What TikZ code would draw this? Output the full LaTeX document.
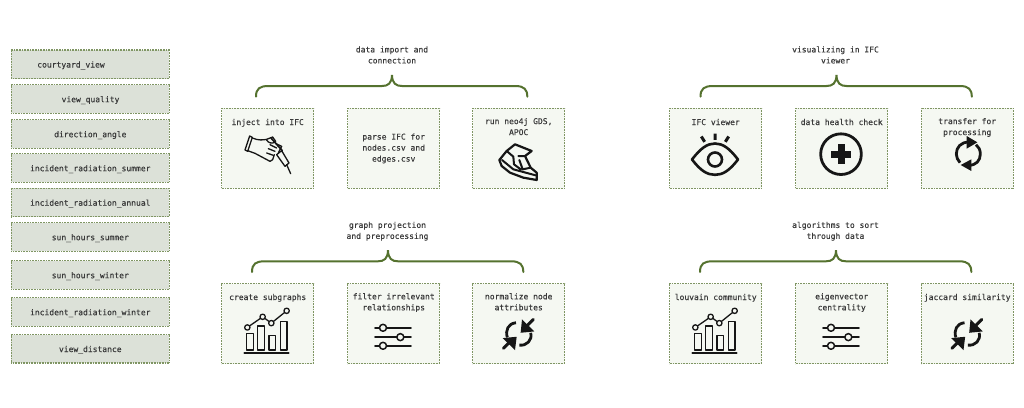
\documentclass[tikz,border=0pt]{standalone}
\usepackage{fontspec}
\setmainfont[FakeBold=0.25]{DejaVu Sans Mono}
\definecolor{cardfill}{HTML}{F5F8F2}
\definecolor{tagfill}{HTML}{DCE1D8}
\definecolor{rim}{HTML}{7F9563}
\definecolor{bracecol}{HTML}{55722F}
\definecolor{ink}{HTML}{3A3A3A}
\definecolor{iconink}{HTML}{161616}
\tikzset{
  rimline/.style={draw=rim,line width=1.4pt,dash pattern=on 1pt off 0.6pt},
  card/.style={rimline,fill=cardfill,minimum width=92pt,minimum height=80pt,inner sep=0pt,anchor=north west},
  tag/.style={rimline,fill=tagfill,minimum width=158pt,minimum height=28.5pt,inner sep=0pt},
  lbl/.style={text=ink,font=\fontsize{8}{11}\selectfont,align=center,inner sep=0pt,yshift=-1pt,execute at begin node=\strut,execute at end node=\strut},
  iconline/.style={draw=iconink,line width=1.3pt,line join=round,line cap=round},
  iconbold/.style={draw=iconink,line width=2.6pt,line join=round},
  zoomed/.style={x=0.3333pt,y=-0.3333pt},
  bracketpic/.pic={\draw[bracecol,line width=2pt,line cap=round,zoomed]
     (0,0) .. controls (0,-25) and (12,-32) .. (37,-32) -- (377,-32)
     .. controls (397,-32) and (407,-40) .. (408,-65)
     .. controls (409,-40) and (419,-32) .. (439,-32) -- (779,-32)
     .. controls (804,-32) and (814,-22) .. (814,0);},
  chartpic/.pic={\begin{scope}[zoomed]
     \foreach \a/\b/\c in {77/97/152,110/130/130,144/163/158,178/198/116}
       \draw[iconline,line width=1.5pt] (\a,\c) rectangle (\b,202);
     \draw[iconline,line width=1.8pt] (70,211) -- (203,211);
     \draw[iconline] (79,134) -- (125,102) -- (151,121) -- (197,84);
     \foreach \p in {(79,134),(125,102),(151,121),(197,84)}
       \draw[iconline,fill=cardfill] \p circle (8);
   \end{scope}},
  sliderpic/.pic={\begin{scope}[zoomed]
     \foreach \yy in {135,163,189} \draw[iconline,line width=1.6pt] (84,\yy) -- (192,\yy);
     \foreach \p in {(108,135),(160,163),(108,189)}
       \draw[iconline,line width=1.5pt,fill=cardfill] \p circle (10.5);
   \end{scope}},
  comprespic/.pic={\begin{scope}[zoomed]
     \draw[iconbold,line width=2.8pt] (78,38) .. controls (55,40) and (45,60) .. (52,82);
     \draw[iconbold,line width=2.8pt] (122,68) .. controls (128,90) and (110,108) .. (88,105);
     \draw[iconbold,line width=3pt,line cap=round] (130,28) -- (108,50);
     \draw[iconbold,line width=3pt,line cap=round] (40,115) -- (60,95);
     \fill[iconink] (92,68) -- (96,28) -- (133,64) -- cycle;
     \fill[iconink] (80,80) -- (75,120) -- (38,84) -- cycle;
   \end{scope}},
  syncpic/.pic={\begin{scope}[zoomed]
     \draw[iconbold,line width=2.8pt] (88,36) .. controls (62,36) and (49,52) .. (49,72) .. controls (49,82) and (53,90) .. (60,98);
     \draw[iconbold,line width=2.8pt] (108,44) .. controls (116,50) and (121,60) .. (121,72) .. controls (121,92) and (108,106) .. (86,106);
     \fill[iconink] (80,18) -- (112,37) -- (80,56) -- cycle;
     \fill[iconink] (94,88) -- (62,105) -- (94,123) -- cycle;
   \end{scope}},
  eyepic/.pic={\begin{scope}[zoomed]
     \draw[iconbold] (69,156) .. controls (95,122) and (115,108) .. (138,108)
        .. controls (161,108) and (181,122) .. (207,156)
        .. controls (181,190) and (161,202) .. (138,202)
        .. controls (115,202) and (95,190) .. (69,156) -- cycle;
     \draw[iconbold] (138,156) circle (21);
     \draw[iconbold,line width=3pt] (138,78) -- (138,97) (97,87) -- (107,103) (179,87) -- (169,103);
   \end{scope}},
  pluspic/.pic={\begin{scope}[zoomed]
     \draw[iconbold,line width=2.8pt] (138,140) circle (61);
     \draw[iconink,line width=7pt] (108,140) -- (168,140) (138,110) -- (138,170);
   \end{scope}},
  handpic/.pic={\begin{scope}[zoomed]
     \draw[iconline] (44,24) -- (30,66) -- (38,70) -- (52,28) -- cycle;
     \draw[iconline] (52,30) .. controls (70,38) and (85,36) .. (95,34)
        -- (113,27) -- (122,40);
     \draw[iconline] (38,68) -- (60,76) -- (105,100) -- (113,95) -- (118,80);
     \draw[iconline] (95,36) .. controls (100,45) and (110,48) .. (122,42);
     \draw[iconline] (95,75) -- (115,82) (100,62) -- (120,70) (105,50) -- (125,60);
     \draw[iconline,line width=1.7pt] (108,30) -- (142,68);
     \draw[iconline] (125,80) -- (140,68) -- (162,105) -- (150,115) -- cycle;
     \draw[iconline] (155,110) -- (167,137);
     \draw[iconline] (125,48) -- (140,55) -- (130,75);
   \end{scope}},
  shoepic/.pic={\begin{scope}[zoomed]
     \draw[iconline,line width=2.2pt] (28,72) -- (50,45) -- (75,25) -- (125,45) -- (105,60)
        -- (122,95) -- (140,110) -- (140,132) -- (100,125) -- (60,110) -- (35,90) -- cycle;
     \draw[iconline,line width=2pt] (50,45) -- (70,62) -- (72,85) -- (92,100)
        (85,60) -- (105,60) (88,72) -- (98,100) -- (122,95)
        (36,72) -- (70,100) -- (137,118);
   \end{scope}}
}
\newcommand{\stepcard}[3]{\node[card] (#1) at (#2,#3) {};}
\begin{document}
\begin{tikzpicture}[x=1pt,y=-1pt]
\useasboundingbox (0,0) rectangle (1024,407);
\fill[white] (0,0) rectangle (1024,407);
% left tags
\foreach \nm/\yy/\tx/\xo in {ta/64.3/courtyard\_view/71,tb/99/view\_quality/90.5,tc/134/direction\_angle/90.3,td/168/incident\_radiation\_summer/90.3,te/202.5/incident\_radiation\_annual/90.3,tf/237/sun\_hours\_summer/90.3,tg/275/sun\_hours\_winter/90.3,th/312/incident\_radiation\_winter/90.3,ti/348.8/view\_distance/90.3}{
  \node[tag] (\nm) at (90.3,\yy) {};
  \node[lbl] (\nm l) at (\xo,\yy) {\tx};
}
% cards
\stepcard{a1}{221}{107.5}\stepcard{a2}{347}{107.5}\stepcard{a3}{472}{107.5}
\stepcard{b1}{669}{107.5}\stepcard{b2}{795}{107.5}\stepcard{b3}{920.5}{107.5}
\stepcard{c1}{221}{282.8}\stepcard{c2}{347}{282.8}\stepcard{c3}{472}{282.8}
\stepcard{d1}{669}{282.8}\stepcard{d2}{795}{282.8}\stepcard{d3}{920.5}{282.8}
% card labels
\node[lbl] (a1l) at ([shift={(0,14.3)}]a1.north) {inject into IFC};
\node[lbl] (a2l) at (a2.center) {parse IFC for\\nodes.csv and\\edges.csv};
\node[lbl] (a3l) at ([shift={(0,19.7)}]a3.north) {run neo4j GDS,\\APOC};
\node[lbl] (b1l) at ([shift={(0,14.3)}]b1.north) {IFC viewer};
\node[lbl] (b2l) at ([shift={(0,14.3)}]b2.north) {data health check};
\node[lbl] (b3l) at ([shift={(0,19.7)}]b3.north) {transfer for\\processing};
\node[lbl] (c1l) at ([shift={(0,14)}]c1.north) {create subgraphs};
\node[lbl] (c2l) at ([shift={(0,19.6)}]c2.north) {filter irrelevant\\relationships};
\node[lbl] (c3l) at ([shift={(0,19.6)}]c3.north) {normalize node\\attributes};
\node[lbl] (d1l) at ([shift={(0,14)}]d1.north) {louvain community};
\node[lbl] (d2l) at ([shift={(0,19.6)}]d2.north) {eigenvector\\centrality};
\node[lbl] (d3l) at ([shift={(0,14)}]d3.north) {jaccard similarity};
% group titles
\node[lbl] (ta1) at (392,55.5) {data import and\\connection};
\node[lbl] (tb1) at (835.5,55.5) {visualizing in IFC\\viewer};
\node[lbl] (tc1) at (387.5,231) {graph projection\\and preprocessing};
\node[lbl] (td1) at (835.5,231) {algorithms to sort\\through data};
% brackets
\coordinate (ba) at (256,96.7); \coordinate (bb) at (700.5,96.7);
\coordinate (bc) at (252,272); \coordinate (bd) at (700,272);
\foreach \c in {ba,bb,bc,bd} \pic at (\c) {bracketpic};
% icons
\pic at ([shift={(14,20.5)}]a1.north west) {handpic};
\pic at ([shift={(18,28.5)}]a3.north west) {shoepic};
\pic at (b1.north west) {eyepic};
\pic at (b2.north west) {pluspic};
\pic at ([shift={(19.5,22.5)}]b3.north west) {syncpic};
\pic at (c1.north west) {chartpic};
\pic at (c2.north west) {sliderpic};
\pic at ([shift={(18,27.3)}]c3.north west) {comprespic};
\pic at (d1.north west) {chartpic};
\pic at (d2.north west) {sliderpic};
\pic at ([shift={(18,27.3)}]d3.north west) {comprespic};
\end{tikzpicture}
\end{document}
